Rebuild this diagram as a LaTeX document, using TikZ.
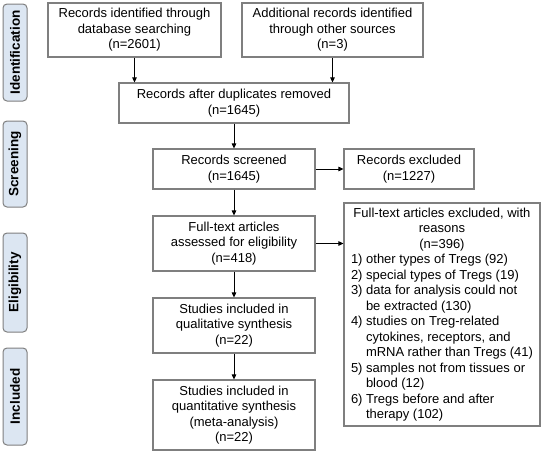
\documentclass[tikz,border=0pt]{standalone}
\usepackage{fontspec}
\setmainfont{Liberation Sans}
\usetikzlibrary{arrows.meta}
\definecolor{boxgray}{HTML}{7F7F7F}
\definecolor{sidefill}{HTML}{DCE6F2}
\begin{document}
\begin{tikzpicture}[x=1pt,y=-1pt,
  box/.style={draw=boxgray, line width=1.1pt, align=center, inner sep=0pt,
    font=\fontsize{13}{15.5}\selectfont},
  side/.style={draw=boxgray, fill=sidefill, rounded corners=4pt, line width=1pt,
    minimum height=24pt, inner sep=0pt, rotate=90,
    font=\bfseries\fontsize{13.5}{16}\selectfont},
  arr/.style={-{Triangle[length=5pt,width=4.5pt]}, line width=0.9pt}]
\useasboundingbox (0,0) rectangle (542,453);
% side labels
\node[side, minimum width=97pt] (s1) at (15,52.5) {Identification};
\node[side, minimum width=86pt] (s2) at (15,164) {Screening};
\node[side, minimum width=99pt] (s3) at (15,282.5) {Eligibility};
\node[side, minimum width=97pt] (s4) at (15,396.5) {Included};
% main boxes
\node[box, minimum width=173pt, minimum height=54pt] (b1) at (134.5,30)
  {Records identified through\\database searching\\(n=2601)};
\node[box, minimum width=181pt, minimum height=54pt] (b2) at (332.5,30)
  {Additional records identified\\through other sources\\(n=3)};
\node[box, minimum width=230pt, minimum height=40pt] (b3) at (234,103)
  {Records after duplicates removed\\(n=1645)};
\node[box, minimum width=162pt, minimum height=40pt] (b4) at (234,169)
  {Records screened\\(n=1645)};
\node[box, minimum width=130pt, minimum height=40pt] (e1) at (409,169)
  {Records excluded\\(n=1227)};
\node[box, minimum width=162pt, minimum height=55pt] (b5) at (234,243.5)
  {Full-text articles\\assessed for eligibility\\(n=418)};
\node[box, minimum width=196pt, minimum height=223pt] (e2) at (442,314.5)
  {\parbox{182pt}{\centering Full-text articles excluded, with\\reasons\\(n=396)\par
   \raggedright
   1) other types of Tregs (92)\\
   2) special types of Tregs (19)\\
   3) data for analysis could not\\
   \hspace*{15pt}be extracted (130)\\
   4) studies on Treg-related\\
   \hspace*{15pt}cytokines, receptors, and\\
   \hspace*{15pt}mRNA rather than Tregs (41)\\
   5) samples not from tissues or\\
   \hspace*{15pt}blood (12)\\
   6) Tregs before and after\\
   \hspace*{15pt}therapy (102)}};
\node[box, minimum width=162pt, minimum height=55pt] (b6) at (234,325.5)
  {Studies included in\\qualitative synthesis\\(n=22)};
\node[box, minimum width=162pt, minimum height=70pt] (b7) at (234,415)
  {Studies included in\\quantitative synthesis\\(meta-analysis)\\(n=22)};
% arrows
\draw[arr] (b1.south) -- (b1.south |- b3.north);
\draw[arr] (b2.south) -- (b2.south |- b3.north);
\draw[arr] (b3.south) -- (b4.north);
\draw[arr] (b4.east) -- (e1.west);
\draw[arr] (b4.south) -- (b5.north);
\draw[arr] (b5.east) -- (b5.east -| e2.west);
\draw[arr] (b5.south) -- (b6.north);
\draw[arr] (b6.south) -- (b7.north);
\end{tikzpicture}
\end{document}
